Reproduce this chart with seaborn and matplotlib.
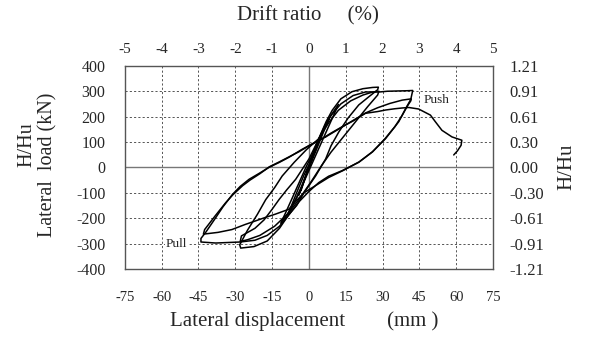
import matplotlib
matplotlib.use("Agg")
import matplotlib.pyplot as plt
import seaborn as sns
import pandas as pd

# Hysteresis record: lateral displacement (mm) and lateral load (kN), cycle by cycle
disp_c1 = [0, 1.5, 3, 4.2, 3.2, 1.5, 0, -1.5, -3, -4.2, -3.2, -1.5, 0]
load_c1 = [0, 45, 90, 115, 90, 45, 5, -40, -85, -110, -85, -40, 0]

disp_c2 = [0, 2.5, 5, 7, 8.2, 7, 4.5, 2, -0.5, -3, -5.5, -7.5, -8.6, -7.3, -4.8, -2, 0.5]
load_c2 = [0, 70, 130, 170, 190, 165, 105, 45, -15, -75, -130, -165, -185, -155, -95, -30, 20]

disp_c3 = [0.5, 3, 6, 9, 12, 10.5, 7.5, 4.5, 1.5, -1.5, -4.5, -7.5, -9.8, -11.5, -9.8, -7, -4, -1, 2]
load_c3 = [20, 85, 150, 205, 248, 215, 150, 85, 20, -45, -110, -165, -200, -220, -185, -125, -60, 5, 60]

disp_c4 = [2, 4, 7, 9.5, 13, 17.5, 22, 26, 28.3, 28, 24, 20.3, 16, 12.2, 9, 6.8, 2.7, -2, -5,
           -8.1, -12, -17, -22.4, -27.8, -28.2, -25, -21, -17.6, -14, -10.9, -6, -1, 4]
load_c4 = [60, 113, 180, 225, 270, 298, 310, 315, 316, 306, 275, 246, 195, 140, 85, 33, -34, -100, -150,
           -185, -240, -290, -312, -318, -305, -247, -185, -127, -80, -34, 20, 70, 113]

disp_c5 = [4, 8, 12, 17, 22, 26, 28.5, 28, 24, 19, 14, 9, 5, 1, -4, -8, -14, -20, -25, -28,
           -27.5, -22, -18.3, -15, -12.2, -9, -5.4, 0, 4]
load_c5 = [113, 175, 225, 262, 285, 297, 300, 285, 240, 180, 120, 60, 5, -55, -125, -177, -232, -268, -285, -292,
           -270, -240, -207, -165, -127, -88, -47, 33, 112]

disp_c6 = [4, 6.5, 9, 13, 18, 23, 28.6, 32, 36, 40, 42.3, 42, 41.5, 39.5, 36.6, 31.2, 25.7, 20.3, 13.5, 8,
           4, 0, -4, -8, -12, -17, -22, -28, -33, -38, -44, -44, -42, -38.6, -35, -31.2, -28, -24.4, -20,
           -16.3, -12, -8.1, -3, 2.7, 6.8]
load_c6 = [112, 165, 205, 250, 283, 297, 297, 300, 301, 302, 303, 290, 268, 233, 180, 113, 60, 20, -13, -35,
           -60, -95, -135, -185, -232, -268, -287, -294, -296, -298, -294, -280, -255, -207, -155, -107, -75, -47, -22,
           0, 20, 40, 70, 100, 120]

disp_c7 = [6.8, 12, 18, 23.2, 28, 33, 38, 41.7, 41.5, 40, 38, 35, 31, 26, 20.5, 14, 8, 3, -2, -5, -8.2,
           -13.6, -18, -21.8, -26, -31.4, -37, -43, -42.5, -38.2, -34, -31, -27, -24, -20, -16, -12, -8, -4, 0, 4]
load_c7 = [120, 150, 185, 215, 235, 252, 265, 270, 262, 240, 205, 160, 113, 62, 22, -12, -40, -70, -100, -130, -165,
           -184, -198, -211, -225, -245, -256, -263, -245, -191, -140, -108, -72, -50, -25, 3, 22, 42, 62, 85, 105]

disp_final = [4, 9, 13.5, 18, 23, 28, 31.2, 35, 38, 40.7, 44.7, 49.5, 51.5, 54.2, 58.3, 62.3, 62, 60.5, 59]
load_final = [105, 135, 160, 183, 213, 220, 226, 231, 234, 236, 230, 206, 180, 146, 120, 107, 87, 65, 49]

disp_cycles = [disp_c1, disp_c2, disp_c3, disp_c4, disp_c5, disp_c6, disp_c7, disp_final]
load_cycles = [load_c1, load_c2, load_c3, load_c4, load_c5, load_c6, load_c7, load_final]

x_ticks = [-75, -60, -45, -30, -15, 0, 15, 30, 45, 60, 75]
y_ticks = [-400, -300, -200, -100, 0, 100, 200, 300, 400]
drift_ticks = [-5, -4, -3, -2, -1, 0, 1, 2, 3, 4, 5]
hhu_labels = ["-1.21", "-0.91", "-0.61", "-0.30", "0.00", "0.30", "0.61", "0.91", "1.21"]
HU = 330.0          # ultimate lateral load, kN
STORY_MM = 1500.0   # drift reference length, mm

frames = []
for i, (d, l) in enumerate(zip(disp_cycles, load_cycles)):
    frames.append(pd.DataFrame({"disp": d, "load": l, "cycle": i}))
df = pd.concat(frames, ignore_index=True)

sns.set_style("white")
plt.rcParams["font.family"] = ["Liberation Serif", "DejaVu Serif"]
plt.rcParams["axes.unicode_minus"] = False

fig = plt.figure(figsize=(5.89, 3.43), dpi=100)
ax = fig.add_axes([0.212, 0.216, 0.625, 0.592])

ax.set_xlim(-75, 75)
ax.set_ylim(-400, 400)
ax.set_xticks(x_ticks)
ax.set_yticks(y_ticks)
ax.grid(True, color="#555555", lw=0.7, ls=(0, (2.2, 2.2)))
ax.axhline(0, color="#777777", lw=1.0, zorder=1.5)
ax.axvline(0, color="#777777", lw=1.0, zorder=1.5)

sns.lineplot(data=df, x="disp", y="load", units="cycle", estimator=None, sort=False,
             color="black", lw=1.1, ax=ax, legend=False, zorder=3)

for s in ax.spines.values():
    s.set_color("#555555")
    s.set_linewidth(1.0)

ax.tick_params(axis="x", length=0, pad=16, labelsize=10.5)
ax.tick_params(axis="y", length=0, pad=14, labelsize=11.5)
ax.set_xlabel("")
ax.set_ylabel("")

top = ax.secondary_xaxis("top", functions=(lambda x: x / STORY_MM * 100, lambda r: r * STORY_MM / 100))
top.set_xticks(drift_ticks)
top.tick_params(length=0, pad=7, labelsize=11)
top.spines["top"].set_visible(False)

right = ax.secondary_yaxis("right", functions=(lambda y: y / HU, lambda r: r * HU))
right.set_yticks([t / HU for t in y_ticks], labels=hhu_labels)
right.tick_params(length=0, pad=12, labelsize=12)
right.spines["right"].set_visible(False)

ax.text(52, 265, "Push", fontsize=9.5, ha="center", va="center", zorder=4)
ax.text(-54, -300, "Pull", fontsize=9.5, ha="center", va="center", zorder=4,
        bbox=dict(facecolor="white", edgecolor="none", pad=0.5))

fig.text(0.522, 0.955, "Drift ratio     (%)", fontsize=15, ha="center", va="center")
fig.text(0.516, 0.064, "Lateral displacement        (mm )", fontsize=15, ha="center", va="center")
fig.text(0.046, 0.578, "H/Hu", fontsize=14.5, ha="center", va="center", rotation=90)
fig.text(0.082, 0.519, "Lateral  load (kN)", fontsize=14.5, ha="center", va="center", rotation=90)
fig.text(0.963, 0.513, "H/Hu", fontsize=15, ha="center", va="center", rotation=90)

fig.savefig("out.png", dpi=100)
